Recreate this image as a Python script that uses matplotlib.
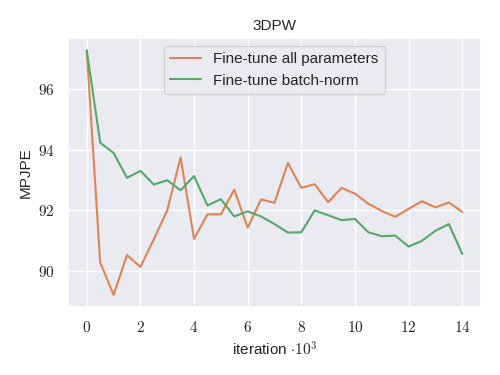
import matplotlib
matplotlib.use("Agg")
import matplotlib.pyplot as plt
import seaborn as sns
from matplotlib.ticker import FuncFormatter

sns.set_theme(style="darkgrid")
plt.rcParams['font.family'] = ['Liberation Sans', 'DejaVu Sans']
plt.rcParams['mathtext.fontset'] = 'cm'

iterations = [i * 0.5 for i in range(29)]
all_params = [97.26, 90.29, 89.22, 90.53, 90.14, 91.05, 92.0, 93.74, 91.06, 91.87,
              91.87, 92.68, 91.43, 92.36, 92.25, 93.56, 92.74, 92.86, 92.27, 92.74,
              92.55, 92.22, 91.98, 91.79, 92.05, 92.3, 92.1, 92.26, 91.95]
batch_norm = [97.26, 94.23, 93.89, 93.07, 93.3, 92.85, 92.99, 92.66, 93.13, 92.16,
              92.37, 91.8, 91.97, 91.8, 91.55, 91.27, 91.28, 92.0, 91.84, 91.68,
              91.72, 91.28, 91.15, 91.17, 90.81, 91.0, 91.33, 91.55, 90.57]
labels = ["Fine-tune all parameters", "Fine-tune batch-norm"]
colors = ["#dd8452", "#55a868"]

fig = plt.figure(figsize=(5, 3.75), dpi=100)
ax = fig.add_axes([0.136, 0.181, 0.826, 0.717])
ax.plot(iterations, all_params, color=colors[0], lw=1.5, label=labels[0])
ax.plot(iterations, batch_norm, color=colors[1], lw=1.5, label=labels[1])
ax.set_xticks([0, 2, 4, 6, 8, 10, 12, 14])
ax.set_yticks([90, 92, 94, 96])
fmt = FuncFormatter(lambda v, p: r"$%d$" % v)
ax.xaxis.set_major_formatter(fmt)
ax.yaxis.set_major_formatter(fmt)
ax.set_title("3DPW", fontsize=11)
ax.set_xlabel(r"iteration $\cdot 10^3$", fontsize=11)
ax.set_ylabel("MPJPE", fontsize=11)
ax.legend(loc="upper center", fontsize=11)
fig.savefig("out.png", dpi=100)
